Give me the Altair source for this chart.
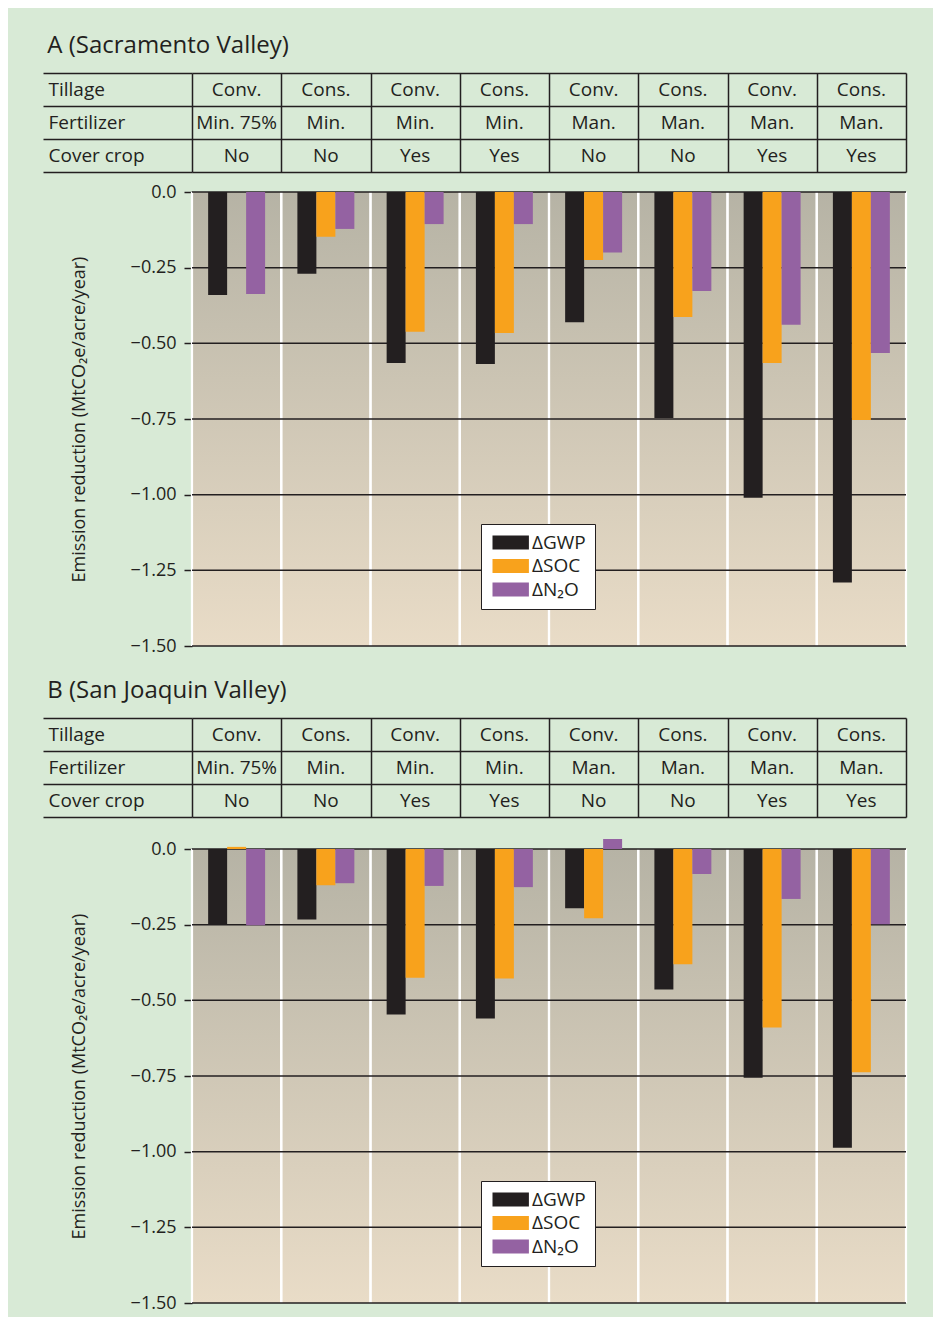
import altair as alt
import pandas as pd

FONT = "Open Sans"
INK = "#231f20"
GREEN = "#d8ead6"

# ---- data -------------------------------------------------------------
groups = ["1", "2", "3", "4", "5", "6", "7", "8"]
tillage = ["Conv.", "Cons.", "Conv.", "Cons.", "Conv.", "Cons.", "Conv.", "Cons."]
fertilizer = ["Min. 75%", "Min.", "Min.", "Min.", "Man.", "Man.", "Man.", "Man."]
cover_crop = ["No", "No", "Yes", "Yes", "No", "No", "Yes", "Yes"]
row_labels = ["Tillage", "Fertilizer", "Cover crop"]

series = ["ΔGWP", "ΔSOC", "ΔN₂O"]
series_colors = ["#231f20", "#f8a21c", "#9462a2"]
y_ticks = [0.0, -0.25, -0.5, -0.75, -1.0, -1.25, -1.5]

# A (Sacramento Valley)
sac_gwp = [-0.34, -0.27, -0.565, -0.568, -0.43, -0.747, -1.01, -1.29]
sac_soc = [0.0, -0.148, -0.462, -0.466, -0.225, -0.413, -0.565, -0.753]
sac_n2o = [-0.337, -0.122, -0.106, -0.106, -0.20, -0.327, -0.439, -0.532]

# B (San Joaquin Valley)
sj_gwp = [-0.25, -0.233, -0.547, -0.56, -0.196, -0.464, -0.756, -0.987]
sj_soc = [0.007, -0.12, -0.425, -0.428, -0.229, -0.381, -0.59, -0.738]
sj_n2o = [-0.252, -0.113, -0.122, -0.126, 0.033, -0.083, -0.165, -0.249]

W = 714


def table_chart(title):
    recs = []
    for label, vals in zip(row_labels, [tillage, fertilizer, cover_crop]):
        for g, v in zip(groups, vals):
            recs.append({"row": label, "group": g, "value": v})
    df = pd.DataFrame(recs)
    return (
        alt.Chart(
            df,
            title=alt.TitleParams(
                title, anchor="start", font=FONT, fontSize=24, fontWeight="normal",
                color=INK, dx=5, offset=6,
            ),
        )
        .mark_text(font=FONT, fontSize=19, color=INK, baseline="middle")
        .encode(
            x=alt.X(
                "group:N",
                scale=alt.Scale(domain=groups, paddingInner=0, paddingOuter=0),
                axis=alt.Axis(
                    title=None, labels=False, ticks=False, domain=False, grid=True,
                    tickBand="extent", gridColor=INK, gridWidth=1.5, gridOpacity=1,
                ),
            ),
            y=alt.Y(
                "row:N",
                scale=alt.Scale(domain=row_labels, paddingInner=0, paddingOuter=0),
                axis=alt.Axis(
                    title=None, domain=False, ticks=True, tickBand="extent",
                    tickSize=149, tickColor=INK, tickWidth=1.5, grid=True,
                    gridColor=INK, gridWidth=1.5, gridOpacity=1,
                    labelAlign="left", labelPadding=-5, labelFont=FONT,
                    labelFontSize=19, labelColor=INK,
                ),
            ),
            text="value:N",
        )
        .properties(width=W, height=99)
    )


def bars_chart(gwp, soc, n2o):
    recs = []
    for s, vals in zip(series, [gwp, soc, n2o]):
        for g, v in zip(groups, vals):
            recs.append({"group": g, "series": s, "value": v})
    df = pd.DataFrame(recs)

    yscale = alt.Scale(domain=[-1.5, 0], nice=False, zero=False)
    yaxis = alt.Axis(
        values=y_ticks,
        labelExpr="datum.value == 0 ? '0.0' : format(datum.value, '.2f')",
        domain=False, grid=False, tickColor=INK, tickSize=8, tickWidth=1.5,
        labelPadding=8, labelFont=FONT, labelFontSize=18, labelColor=INK,
        title="Emission reduction (MtCO₂e/acre/year)", titleFont=FONT,
        titleFontSize=18, titleFontWeight="normal", titleColor=INK,
        titlePadding=42,
    )
    xscale = alt.Scale(domain=groups, paddingInner=0, paddingOuter=0)

    gradient = alt.LinearGradient(
        gradient="linear",
        stops=[
            alt.GradientStop(color="#b6b3a5", offset=0),
            alt.GradientStop(color="#e9dcc7", offset=1),
        ],
        x1=0, x2=0, y1=0, y2=1,
    )
    bg = (
        alt.Chart(pd.DataFrame({"top": [0.0], "bottom": [-1.5]}))
        .mark_rect(color=gradient)
        .encode(y=alt.Y("top:Q", scale=yscale, axis=yaxis), y2="bottom:Q")
    )
    gdf = pd.DataFrame({"group": groups})
    sep_left = (
        alt.Chart(gdf)
        .mark_rule(color="white", strokeWidth=2.2)
        .encode(x=alt.X("group:N", bandPosition=0, scale=xscale, axis=None))
    )
    sep_right = (
        alt.Chart(gdf)
        .mark_rule(color="white", strokeWidth=2.2)
        .encode(x=alt.X("group:N", bandPosition=1, scale=xscale, axis=None))
    )
    grid = (
        alt.Chart(pd.DataFrame({"v": y_ticks}))
        .mark_rule(color=INK, strokeWidth=1.5)
        .encode(y=alt.Y("v:Q", scale=yscale, axis=yaxis))
    )
    legend = alt.Legend(
        title=None, orient="none", legendX=289, legendY=332,
        fillColor="white", strokeColor=INK, padding=9,
        symbolType="M-1,-1 L4.2,-1 L4.2,1 L-1,1 Z", symbolSize=196,
        symbolStrokeWidth=0, symbolOpacity=1,
        labelFont=FONT, labelFontSize=19, labelColor=INK,
        labelOffset=23, rowPadding=3.5,
    )
    bars = (
        alt.Chart(df)
        .mark_bar()
        .encode(
            x=alt.X("group:N", scale=xscale, axis=None),
            xOffset=alt.XOffset(
                "series:N",
                scale=alt.Scale(domain=series, paddingInner=0, paddingOuter=0.85),
            ),
            y=alt.Y("value:Q", scale=yscale, axis=yaxis),
            color=alt.Color(
                "series:N",
                scale=alt.Scale(domain=series, range=series_colors),
                legend=legend,
            ),
        )
    )
    return alt.layer(bg, sep_left, sep_right, grid, bars).properties(width=W, height=454)


panel_a = alt.vconcat(
    table_chart("A (Sacramento Valley)"),
    bars_chart(sac_gwp, sac_soc, sac_n2o),
    spacing=20, bounds="flush",
).resolve_scale(color="independent")

panel_b = alt.vconcat(
    table_chart("B (San Joaquin Valley)"),
    bars_chart(sj_gwp, sj_soc, sj_n2o),
    spacing=32, bounds="flush",
).resolve_scale(color="independent")

chart = (
    alt.vconcat(panel_a, panel_b, spacing=24)
    .resolve_scale(color="independent")
    .properties(
        background=GREEN,
        padding={"left": 34, "right": 25, "top": 26, "bottom": 5},
    )
    .configure_view(stroke=None)
)

chart.save("out.html", embed_options={"renderer": "svg", "actions": False})
